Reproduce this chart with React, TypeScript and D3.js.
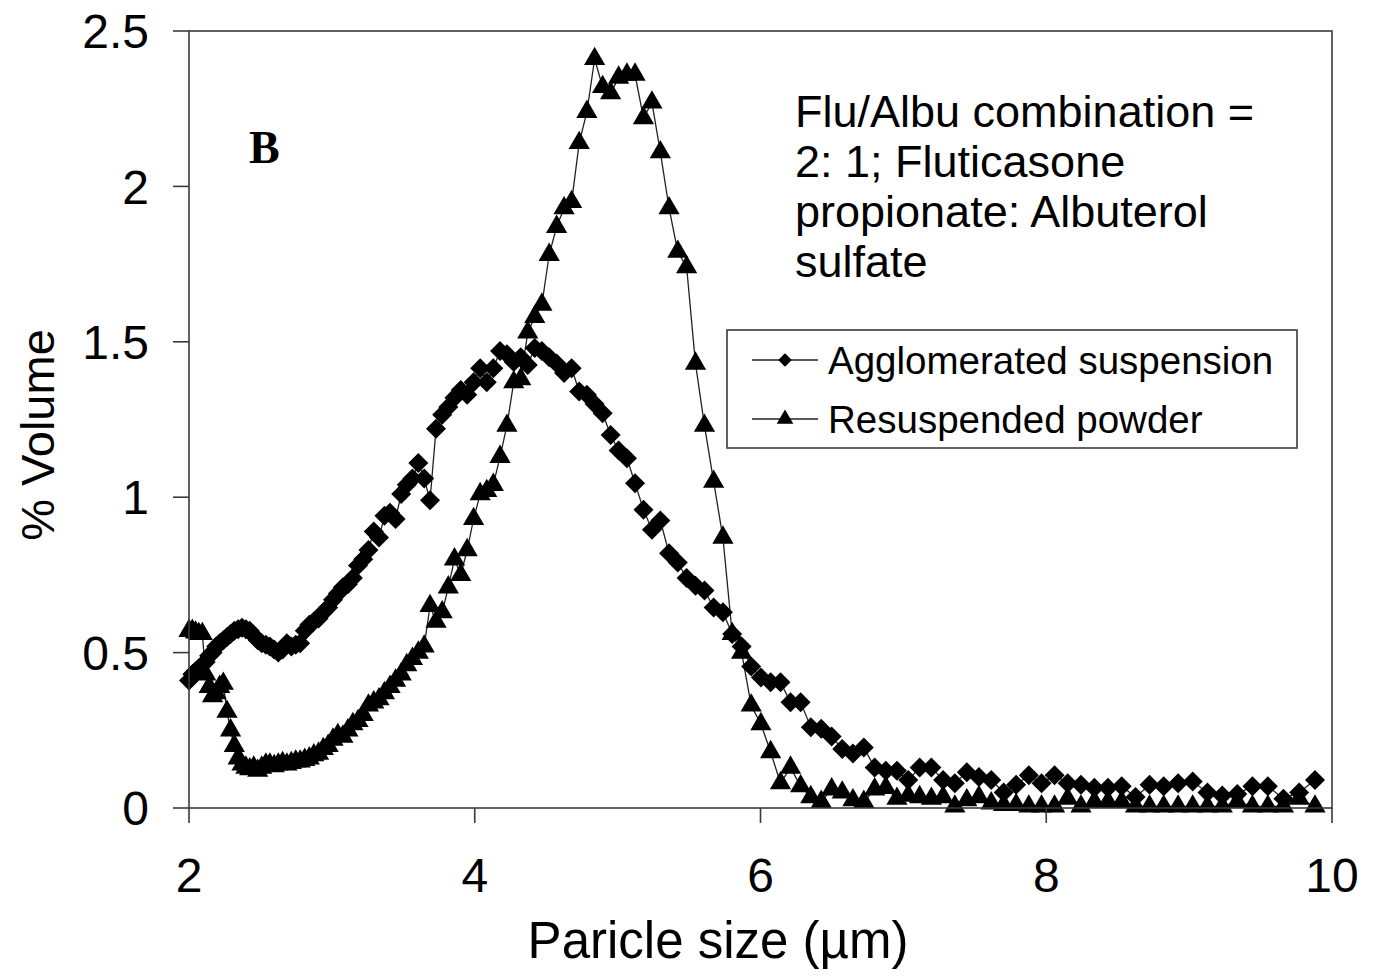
import React from "react";
import * as d3 from "d3";

// Particle size bins (µm)
const sizes = [
  2.000, 2.023, 2.046, 2.069, 2.093, 2.117, 2.141, 2.165, 2.190, 2.215,
  2.240, 2.266, 2.291, 2.317, 2.344, 2.371, 2.398, 2.425, 2.453, 2.481,
  2.509, 2.538, 2.566, 2.596, 2.625, 2.655, 2.685, 2.716, 2.747, 2.778,
  2.810, 2.842, 2.874, 2.907, 2.940, 2.974, 3.008, 3.042, 3.077, 3.112,
  3.147, 3.183, 3.219, 3.256, 3.293, 3.330, 3.368, 3.407, 3.446, 3.485,
  3.524, 3.564, 3.605, 3.646, 3.687, 3.729, 3.772, 3.815, 3.858, 3.902,
  3.947, 3.992, 4.038, 4.084, 4.130, 4.177, 4.225, 4.273, 4.322, 4.371,
  4.420, 4.470, 4.521, 4.573, 4.625, 4.678, 4.731, 4.785, 4.839, 4.895,
  4.951, 5.007, 5.065, 5.122, 5.181, 5.240, 5.299, 5.360, 5.421, 5.483,
  5.545, 5.608, 5.672, 5.737, 5.802, 5.868, 5.935, 6.003, 6.071, 6.140,
  6.210, 6.281, 6.352, 6.425, 6.498, 6.572, 6.647, 6.723, 6.799, 6.877,
  6.955, 7.034, 7.114, 7.196, 7.278, 7.360, 7.444, 7.529, 7.615, 7.702,
  7.789, 7.878, 7.967, 8.058, 8.150, 8.243, 8.337, 8.432, 8.528, 8.625,
  8.723, 8.822, 8.923, 9.025, 9.128, 9.232, 9.337, 9.443, 9.551, 9.660,
  9.770, 9.881,
];

// % Volume, Agglomerated suspension (diamonds)
const agglomerated = [
  0.41, 0.43, 0.44, 0.45, 0.46, 0.47, 0.49, 0.50, 0.52, 0.53,
  0.54, 0.55, 0.56, 0.57, 0.575, 0.58, 0.575, 0.57, 0.555, 0.54,
  0.53, 0.525, 0.52, 0.51, 0.50, 0.51, 0.53, 0.52, 0.525, 0.53,
  0.57, 0.59, 0.60, 0.61, 0.63, 0.645, 0.67, 0.69, 0.71, 0.72,
  0.74, 0.78, 0.80, 0.83, 0.89, 0.87, 0.94, 0.95, 0.93, 1.01,
  1.04, 1.06, 1.11, 1.06, 0.99, 1.22, 1.265, 1.29, 1.32, 1.345,
  1.33, 1.37, 1.415, 1.37, 1.415, 1.47, 1.46, 1.435, 1.45, 1.425,
  1.48, 1.47, 1.45, 1.43, 1.40, 1.415, 1.34, 1.33, 1.30, 1.27,
  1.20, 1.15, 1.125, 1.045, 0.96, 0.895, 0.925, 0.82, 0.79, 0.74,
  0.715, 0.70, 0.645, 0.63, 0.56, 0.52, 0.455, 0.42, 0.405, 0.405,
  0.34, 0.34, 0.26, 0.255, 0.23, 0.19, 0.175, 0.195, 0.13, 0.12,
  0.12, 0.09, 0.13, 0.13, 0.09, 0.08, 0.115, 0.10, 0.09, 0.05,
  0.075, 0.105, 0.08, 0.105, 0.08, 0.075, 0.065, 0.065, 0.07, 0.035,
  0.075, 0.07, 0.08, 0.085, 0.05, 0.04, 0.045, 0.07, 0.07, 0.03,
  0.05, 0.09,
];

// % Volume, Resuspended powder (triangles)
const resuspended = [
  0.57, 0.57, 0.565, 0.56, 0.56, 0.43, 0.39, 0.36, 0.37, 0.39,
  0.40, 0.31, 0.25, 0.20, 0.16, 0.14, 0.13, 0.125, 0.13, 0.12,
  0.13, 0.14, 0.14, 0.135, 0.14, 0.145, 0.14, 0.145, 0.15, 0.15,
  0.155, 0.16, 0.17, 0.175, 0.19, 0.20, 0.22, 0.235, 0.23, 0.25,
  0.27, 0.28, 0.30, 0.33, 0.34, 0.35, 0.37, 0.39, 0.41, 0.43,
  0.46, 0.48, 0.50, 0.52, 0.65, 0.60, 0.63, 0.71, 0.80, 0.75,
  0.83, 0.93, 1.01, 1.02, 1.04, 1.13, 1.23, 1.37, 1.38, 1.53,
  1.58, 1.62, 1.78, 1.87, 1.93, 1.95, 2.14, 2.24, 2.41, 2.32,
  2.30, 2.35, 2.36, 2.36, 2.22, 2.27, 2.11, 1.93, 1.79, 1.74,
  1.43, 1.23, 1.05, 0.87, 0.56, 0.50, 0.33, 0.27, 0.18, 0.08,
  0.13, 0.07, 0.035, 0.02, 0.06, 0.05, 0.025, 0.02, 0.06, 0.065,
  0.03, 0.04, 0.035, 0.03, 0.035, 0.005, 0.025, 0.035, 0.015, 0.01,
  0.01, 0.005, 0.005, 0.005, 0.03, 0.005, 0.02, 0.02, 0.02, 0.005,
  0.005, 0.005, 0.005, 0.005, 0.005, 0.005, 0.02, 0.005, 0.005, 0.005,
  0.03, 0.005,
];

const xTicks = [2, 4, 6, 8, 10];
const yTicks = [0, 0.5, 1, 1.5, 2, 2.5];
const seriesNames = ["Agglomerated suspension", "Resuspended powder"];
const noteLines = [
  "Flu/Albu combination =",
  "2: 1; Fluticasone",
  "propionate: Albuterol",
  "sulfate",
];

const W = 1376;
const H = 977;
const L = 189, R = 1332, T = 31, B = 808;
const FONT = "'Liberation Sans', Arial, sans-serif";

export default function App() {
  const x = d3.scaleLinear().domain([2, 10]).range([L, R]);
  const y = d3.scaleLinear().domain([0, 2.5]).range([B, T]);

  const line = d3
    .line<number>()
    .x((_, i) => x(sizes[i]))
    .y((d) => y(d));

  const diamond = d3.symbol(d3.symbolSquare, 200)();
  const triangle = d3.symbol(d3.symbolTriangle, 195)();
  const diamondSmall = d3.symbol(d3.symbolSquare, 90)();
  const triangleSmall = d3.symbol(d3.symbolTriangle, 120)();

  const fmt = (v: number) => (v === 0 ? "0" : String(v));

  return (
    <svg
      width={W}
      height={H}
      style={{ position: "absolute", left: 0, top: 0, background: "#fff" }}
      fontFamily={FONT}
    >
      <rect x={0} y={0} width={W} height={H} fill="#fff" />

      {/* series lines */}
      <path d={line(agglomerated) || ""} fill="none" stroke="#222" strokeWidth={1.3} />
      <path d={line(resuspended) || ""} fill="none" stroke="#222" strokeWidth={1.3} />

      {/* markers */}
      {agglomerated.map((v, i) => (
        <path
          key={"a" + i}
          d={diamond}
          transform={`translate(${x(sizes[i])},${y(v)}) rotate(45)`}
          fill="#000"
        />
      ))}
      {resuspended.map((v, i) => (
        <path
          key={"r" + i}
          d={triangle}
          transform={`translate(${x(sizes[i])},${y(v)})`}
          fill="#000"
        />
      ))}

      {/* frame */}
      <rect x={L} y={T} width={R - L} height={B - T} fill="none" stroke="#3a3a3a" strokeWidth={1.6} />

      {/* y ticks */}
      {yTicks.map((t) => (
        <g key={"yt" + t}>
          <line x1={L - 16} x2={L} y1={y(t)} y2={y(t)} stroke="#3a3a3a" strokeWidth={1.6} />
          <text
            x={149}
            y={y(t)}
            dy="0.36em"
            textAnchor="end"
            fontSize={48}
            fill="#000"
          >
            {fmt(t)}
          </text>
        </g>
      ))}

      {/* x ticks */}
      {xTicks.map((t) => (
        <g key={"xt" + t}>
          <line x1={x(t)} x2={x(t)} y1={B} y2={B + 15} stroke="#3a3a3a" strokeWidth={1.6} />
          <text x={x(t)} y={892} textAnchor="middle" fontSize={48} fill="#000">
            {t}
          </text>
        </g>
      ))}

      {/* axis titles */}
      <text x={718} y={958} textAnchor="middle" fontSize={51} fill="#000">
        Paricle size (µm)
      </text>
      <text
        transform={`translate(54,435) rotate(-90)`}
        textAnchor="middle"
        fontSize={47}
        fill="#000"
      >
        % Volume
      </text>

      {/* panel letter */}
      <text
        x={249}
        y={163}
        fontFamily="'Liberation Serif', 'Times New Roman', serif"
        fontWeight="bold"
        fontSize={46}
        fill="#000"
      >
        B
      </text>

      {/* annotation */}
      {noteLines.map((s, i) => (
        <text key={"n" + i} x={795} y={127 + i * 50} fontSize={45} fill="#000">
          {s}
        </text>
      ))}

      {/* legend */}
      <rect x={727} y={330} width={570} height={118} fill="#fff" stroke="#3a3a3a" strokeWidth={1.6} />
      {seriesNames.map((name, i) => {
        const ly = 360 + i * 59;
        return (
          <g key={"lg" + i}>
            <line x1={752} x2={818} y1={ly} y2={ly} stroke="#222" strokeWidth={1.3} />
            <path
              d={i === 0 ? diamondSmall : triangleSmall}
              transform={`translate(785,${ly})${i === 0 ? " rotate(45)" : ""}`}
              fill="#000"
            />
            <text x={828} y={ly} dy="0.36em" fontSize={38.5} fill="#000">
              {name}
            </text>
          </g>
        );
      })}
    </svg>
  );
}
